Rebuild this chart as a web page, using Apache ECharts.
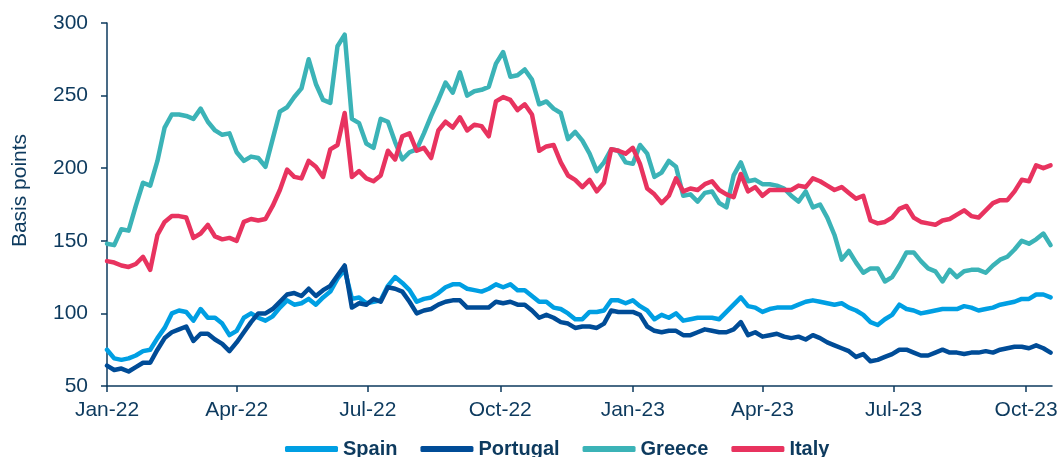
<!DOCTYPE html>
<html>
<head>
<meta charset="utf-8">
<script src="https://cdn.jsdelivr.net/npm/echarts@6/dist/echarts.min.js"></script>
<style>
  html, body { margin: 0; padding: 0; background: #ffffff; }
  #chart { width: 1061px; height: 457px; }
</style>
</head>
<body>
<div id="chart"></div>
<script>
// Observation dates (every 5 days)
const dates = [
  "2022-01-01","2022-01-06","2022-01-11","2022-01-16","2022-01-21","2022-01-26","2022-01-31",
  "2022-02-05","2022-02-10","2022-02-15","2022-02-20","2022-02-25",
  "2022-03-02","2022-03-07","2022-03-12","2022-03-17","2022-03-22","2022-03-27",
  "2022-04-01","2022-04-06","2022-04-11","2022-04-16","2022-04-21","2022-04-26",
  "2022-05-01","2022-05-06","2022-05-11","2022-05-16","2022-05-21","2022-05-26","2022-05-31",
  "2022-06-05","2022-06-10","2022-06-15","2022-06-20","2022-06-25","2022-06-30",
  "2022-07-05","2022-07-10","2022-07-15","2022-07-20","2022-07-25","2022-07-30",
  "2022-08-04","2022-08-09","2022-08-14","2022-08-19","2022-08-24","2022-08-29",
  "2022-09-03","2022-09-08","2022-09-13","2022-09-18","2022-09-23","2022-09-28",
  "2022-10-03","2022-10-08","2022-10-13","2022-10-18","2022-10-23","2022-10-28",
  "2022-11-02","2022-11-07","2022-11-12","2022-11-17","2022-11-22","2022-11-27",
  "2022-12-02","2022-12-07","2022-12-12","2022-12-17","2022-12-22","2022-12-27",
  "2023-01-01","2023-01-06","2023-01-11","2023-01-16","2023-01-21","2023-01-26","2023-01-31",
  "2023-02-05","2023-02-10","2023-02-15","2023-02-20","2023-02-25",
  "2023-03-02","2023-03-07","2023-03-12","2023-03-17","2023-03-22","2023-03-27",
  "2023-04-01","2023-04-06","2023-04-11","2023-04-16","2023-04-21","2023-04-26",
  "2023-05-01","2023-05-06","2023-05-11","2023-05-16","2023-05-21","2023-05-26","2023-05-31",
  "2023-06-05","2023-06-10","2023-06-15","2023-06-20","2023-06-25","2023-06-30",
  "2023-07-05","2023-07-10","2023-07-15","2023-07-20","2023-07-25","2023-07-30",
  "2023-08-04","2023-08-09","2023-08-14","2023-08-19","2023-08-24","2023-08-29",
  "2023-09-03","2023-09-08","2023-09-13","2023-09-18","2023-09-23","2023-09-28",
  "2023-10-03","2023-10-08","2023-10-13","2023-10-18"
];

const spain = [
  75,69,68,69,71,74,75,83,90,100,
  102,101,95,103,97,97,93,85,88,97,
  100,97,95,98,104,109,106,107,110,106,
  111,115,124,130,110,111,107,108,109,119,
  125,121,116,108,110,111,114,118,120,120,
  117,116,115,117,120,118,120,116,116,112,
  108,108,104,103,100,96,96,101,101,102,
  109,109,107,109,105,102,96,99,97,100,
  95,96,97,97,97,96,101,106,111,105,
  104,101,103,104,104,104,106,108,109,108,
  107,106,107,104,102,99,94,92,96,99,
  106,103,102,100,101,102,103,103,103,105,
  104,102,103,104,106,107,108,110,110,113,
  113,111
];

const portugal = [
  64,61,62,60,63,66,66,75,83,87,
  89,91,81,86,86,82,79,74,80,87,
  94,100,100,103,108,113,114,112,117,112,
  116,119,126,133,104,107,106,110,108,118,
  117,115,108,100,102,103,106,108,109,109,
  104,104,104,104,108,107,108,106,106,102,
  97,99,97,94,93,90,91,91,90,93,
  102,101,101,101,99,91,88,87,88,88,
  85,85,87,89,88,87,87,89,94,85,
  87,84,85,86,84,83,84,82,85,83,
  80,78,76,74,70,72,67,68,70,72,
  75,75,73,71,71,73,75,73,73,72,
  73,73,74,73,75,76,77,77,76,78,
  76,73
];

const greece = [
  148,147,158,157,174,190,188,205,228,237,
  237,236,234,241,232,226,223,224,211,205,
  208,207,201,220,239,242,249,255,275,258,
  247,245,284,292,234,231,217,214,234,232,
  218,206,211,213,224,236,247,259,252,266,
  250,253,254,256,272,280,263,264,268,261,
  244,246,241,238,220,225,219,210,198,204,
  213,212,204,203,216,210,194,197,205,201,
  181,182,177,183,184,176,173,195,204,191,
  192,189,189,188,186,181,177,184,173,175,
  166,154,137,143,135,128,131,131,122,125,
  133,142,142,136,131,129,122,130,125,129,
  130,130,128,133,137,139,144,150,148,151,
  155,147
];

const italy = [
  136,135,133,132,134,139,130,154,163,167,
  167,166,152,155,161,153,151,152,150,163,
  165,164,165,174,185,199,194,193,205,201,
  194,213,216,238,194,198,193,191,195,212,
  206,222,224,212,214,207,226,232,228,235,
  226,230,229,222,246,249,247,240,244,237,
  212,215,216,204,195,192,187,192,184,190,
  213,212,210,214,203,186,182,176,181,193,
  184,186,185,189,191,185,182,180,196,184,
  187,181,185,185,185,185,188,187,193,191,
  188,185,187,183,179,181,164,162,163,166,
  172,174,166,163,162,161,164,165,168,171,
  167,166,171,176,178,178,184,192,191,202,
  200,202
];

const tickDates = ["2022-01-01","2022-04-01","2022-07-01","2022-10-01","2023-01-01","2023-04-01","2023-07-01","2023-10-01"];
const tickLabels = ["Jan-22","Apr-22","Jul-22","Oct-22","Jan-23","Apr-23","Jul-23","Oct-23"];
const axisEndDate = "2023-10-19";

const seriesNames = ["Spain","Portugal","Greece","Italy"];
const seriesColors = ["#009fe3","#004c97","#3bb3b7","#e8335f"];

// convert date string to day offset from 1 Jan 2022
const BASE = Date.UTC(2022, 0, 1);
function dayOf(s) {
  const p = s.split("-").map(Number);
  return Math.round((Date.UTC(p[0], p[1] - 1, p[2]) - BASE) / 86400000);
}
const xDays = dates.map(dayOf);
const tickDays = tickDates.map(dayOf);
const labelByDay = {};
tickDays.forEach((d, i) => { labelByDay[d] = tickLabels[i]; });

const values = [spain, portugal, greece, italy];
const navy = "#0d3a5e";
const font = "'Liberation Sans', Arial, sans-serif";

const chart = echarts.init(document.getElementById('chart'), null, { renderer: 'canvas' });
chart.setOption({
  animation: false,
  backgroundColor: '#ffffff',
  textStyle: { fontFamily: font },
  grid: { left: 107, right: 9, top: 23, bottom: 71, containLabel: false },
  legend: {
    data: seriesNames.map(n => ({ name: n, icon: 'roundRect' })),
    left: 280,
    top: 434,
    itemWidth: 53,
    itemHeight: 6,
    itemGap: 23,
    textStyle: { fontFamily: font, fontWeight: 'bold', fontSize: 20, color: navy }
  },
  xAxis: {
    type: 'value',
    min: 0,
    max: dayOf(axisEndDate),
    splitLine: { show: false },
    axisLine: { show: true, lineStyle: { color: navy, width: 1.5 } },
    axisTick: { show: true, length: 6, lineStyle: { color: navy, width: 1.5 }, customValues: tickDays },
    axisLabel: {
      customValues: tickDays,
      formatter: v => labelByDay[v] || '',
      color: navy, fontSize: 21, fontFamily: font, margin: 14
    }
  },
  yAxis: {
    type: 'value',
    min: 50,
    max: 300,
    interval: 50,
    name: 'Basis points',
    nameLocation: 'middle',
    nameGap: 76,
    nameTextStyle: { color: navy, fontSize: 21, fontFamily: font, padding: [0, 0, 0, 28] },
    splitLine: { show: false },
    axisLine: { show: true, lineStyle: { color: navy, width: 1.5 } },
    axisTick: { show: true, length: 6, lineStyle: { color: navy, width: 1.5 } },
    axisLabel: { color: navy, fontSize: 21, fontFamily: font, margin: 19 }
  },
  series: seriesNames.map((name, i) => ({
    name: name,
    type: 'line',
    symbol: 'none',
    smooth: false,
    color: seriesColors[i],
    lineStyle: { color: seriesColors[i], width: 4.5, join: 'round', cap: 'round' },
    data: xDays.map((d, j) => [d, values[i][j]])
  }))
});
</script>
</body>
</html>
